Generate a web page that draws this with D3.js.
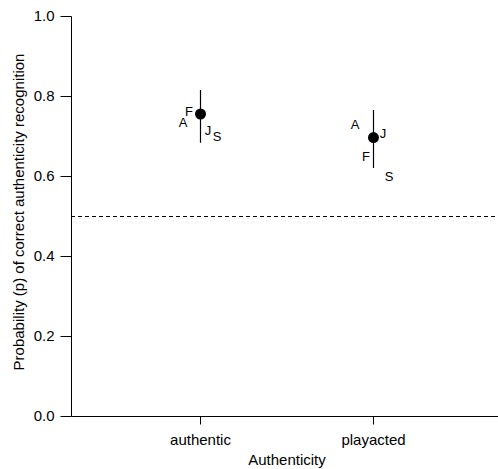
<!DOCTYPE html>
<html>
<head>
<meta charset="utf-8">
<script src="https://cdn.jsdelivr.net/npm/d3@7"></script>
<style>
  body { margin: 0; background: #fff; }
  text { font-family: "Liberation Sans", Arial, sans-serif; }
</style>
</head>
<body>
<div id="chart"></div>
<script>
// categories and tick labels
const categories = ["authentic", "playacted"];
const yTicks = [0, 0.2, 0.4, 0.6, 0.8, 1.0];

// means with error bars
const means = [0.755, 0.696];
const lower = [0.683, 0.620];
const upper = [0.815, 0.765];

// per-group letters: label, category, value, horizontal offset (px)
const groupLabels = ["A", "F", "J", "S", "A", "F", "J", "S"];
const groupCats = ["authentic", "authentic", "authentic", "authentic", "playacted", "playacted", "playacted", "playacted"];
const groupValues = [0.733, 0.762, 0.713, 0.698, 0.728, 0.650, 0.707, 0.598];
const groupDx = [-17, -11, 8, 17, -18, -7, 10, 16];

const chance = 0.5;

const config = {
    width: 498,
    height: 469,
    margin: { top: 16, left: 71, bottom: 53, right: 0 },
    tickLen: 11,
    dotR: 5.5,
    fontSize: 15,
};

const svg = d3.select("#chart")
    .append("svg")
    .attr("width", config.width)
    .attr("height", config.height);

const scale_x = d3.scalePoint()
    .domain(categories)
    .range([200, 373]);

const scale_y = d3.scaleLinear()
    .domain([0, 1])
    .range([config.height - config.margin.bottom, config.margin.top]);

const y0 = scale_y(0);

// y axis
const g_axisY = svg.append("g")
    .attr("transform", `translate(${config.margin.left + 0.5}, 0.5)`)
    .call(d3.axisLeft(scale_y).tickValues(yTicks).tickFormat(d3.format(".1f"))
        .tickSize(config.tickLen).tickPadding(6).offset(0));
g_axisY.select(".domain").attr("d", `M0,${scale_y(1)}V${y0}`);

// x axis
const g_axisX = svg.append("g")
    .attr("transform", `translate(0.5, ${y0 + 0.5})`)
    .call(d3.axisBottom(scale_x).tickSize(8).tickPadding(10).offset(0));
g_axisX.select(".domain").attr("d", `M${config.margin.left},0H${config.width}`);

svg.selectAll(".tick text")
    .attr("font-size", config.fontSize)
    .attr("font-family", "Liberation Sans, Arial, sans-serif")
    .attr("fill", "#000");
svg.selectAll(".domain, .tick line").attr("stroke", "#000");

// chance line
svg.append("line")
    .attr("x1", config.margin.left)
    .attr("x2", config.width - 2)
    .attr("y1", scale_y(chance) + 0.5)
    .attr("y2", scale_y(chance) + 0.5)
    .attr("stroke", "#000")
    .attr("stroke-dasharray", "4,3");

// error bars
svg.append("g").selectAll("line")
    .data(categories)
    .join("line")
    .attr("x1", d => scale_x(d) + 0.5)
    .attr("x2", d => scale_x(d) + 0.5)
    .attr("y1", (d, i) => scale_y(upper[i]))
    .attr("y2", (d, i) => scale_y(lower[i]))
    .attr("stroke", "#000")
    .attr("stroke-width", 1.2);

// means
svg.append("g").selectAll("circle")
    .data(categories)
    .join("circle")
    .attr("cx", d => scale_x(d) + 0.5)
    .attr("cy", (d, i) => scale_y(means[i]))
    .attr("r", config.dotR)
    .attr("fill", "#000");

// group letters
svg.append("g").selectAll("text")
    .data(groupLabels)
    .join("text")
    .attr("x", (d, i) => scale_x(groupCats[i]) + groupDx[i])
    .attr("y", (d, i) => scale_y(groupValues[i]))
    .attr("dy", "0.35em")
    .attr("text-anchor", "middle")
    .attr("font-size", 13)
    .text(d => d);

// axis titles
svg.append("text")
    .attr("x", 287)
    .attr("y", 465)
    .attr("text-anchor", "middle")
    .attr("font-size", config.fontSize)
    .text("Authenticity");

svg.append("text")
    .attr("transform", `translate(24, 212) rotate(-90)`)
    .attr("text-anchor", "middle")
    .attr("font-size", config.fontSize)
    .text("Probability (p) of correct authenticity recognition");
</script>
</body>
</html>
